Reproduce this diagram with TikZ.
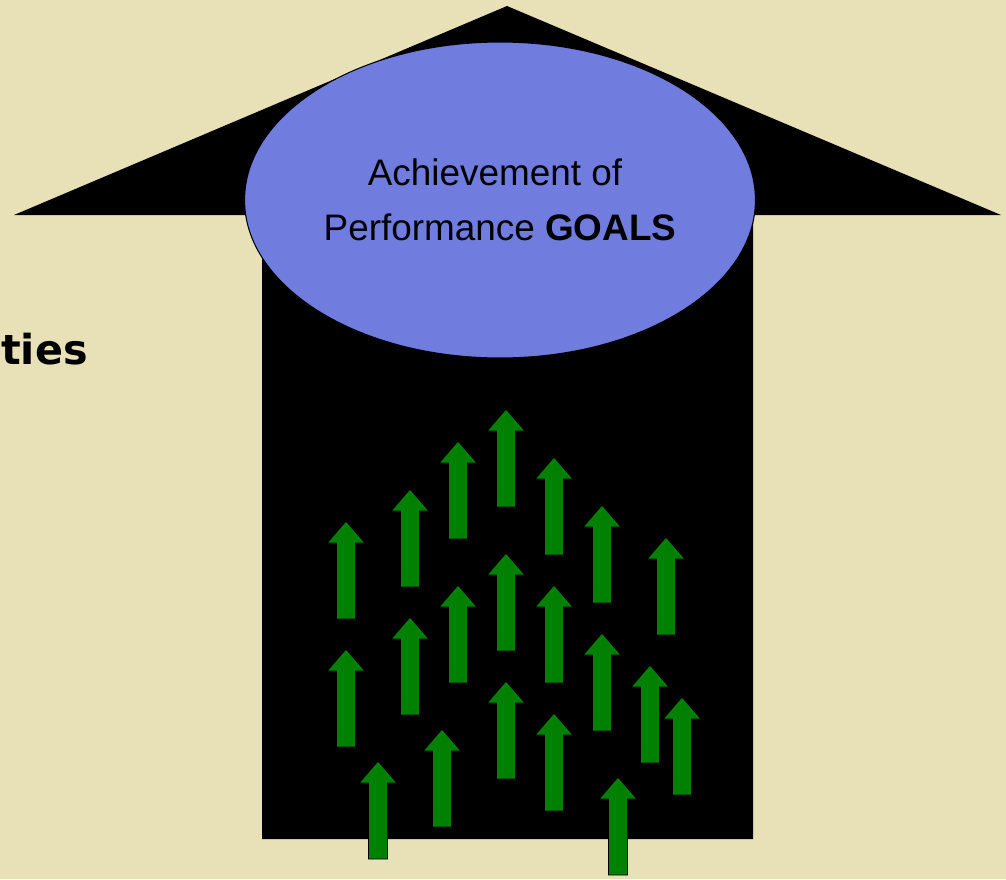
\documentclass[tikz,border=0pt]{standalone}
\usepackage{fontspec}
\setmainfont{Liberation Sans}
\newfontfamily\heavyfont{DejaVu Sans}
\usetikzlibrary{shapes.geometric}
\definecolor{paper}{HTML}{E8E1B8}
\definecolor{goalblue}{HTML}{707DDF}
\definecolor{leafgreen}{HTML}{008000}
\tikzset{
bigarrow/.style=
    {fill=black,
    draw=none
    },
goalnode/.style=
    {ellipse,
    fill=goalblue,
    draw=black,
    line width=0.6pt,
    minimum width=10.22cm,
    minimum height=6.32cm,
    inner sep=0pt,
    align=center,
    font=\fontsize{21}{30}\selectfont
    },
smallarrow/.style=
    {fill=leafgreen,
    draw=black,
    line width=0.5pt
    },
uparrow/.pic=
    {\path[smallarrow] (0,0) -- (19,22) -- (9.5,22) -- (9.5,98)
       -- (-9.5,98) -- (-9.5,22) -- (-19,22) -- cycle;}
}

\begin{document}
\begin{tikzpicture}[x=0.02cm,y=-0.02cm]
\useasboundingbox[fill=paper] (0,0) rectangle (1006,879);

% the big black arrow
\path[bigarrow] (507,6) -- (1001,215) -- (753,215) -- (753,839)
   -- (262,839) -- (262,215) -- (14,215) -- cycle;

\node[goalnode] (goals) at (500,200)
   {Achievement of\hspace*{0.2cm}\\[1pt]Performance \textbf{GOALS}};

\node[anchor=base east,inner sep=0pt] (ties) at (88,364)
   {\heavyfont\bfseries\fontsize{23.5}{28}\selectfont ties};

% small green arrows, tip positions
\foreach \x/\y in {346/521, 346/649, 410/489, 410/617, 458/441, 458/585,
                   506/409, 506/553, 506/681, 554/457, 554/585, 554/713,
                   602/505, 602/633, 666/537, 650/665, 682/697, 442/729,
                   378/761, 618/777}
  \pic at (\x,\y) {uparrow};

\end{tikzpicture}
\end{document}
